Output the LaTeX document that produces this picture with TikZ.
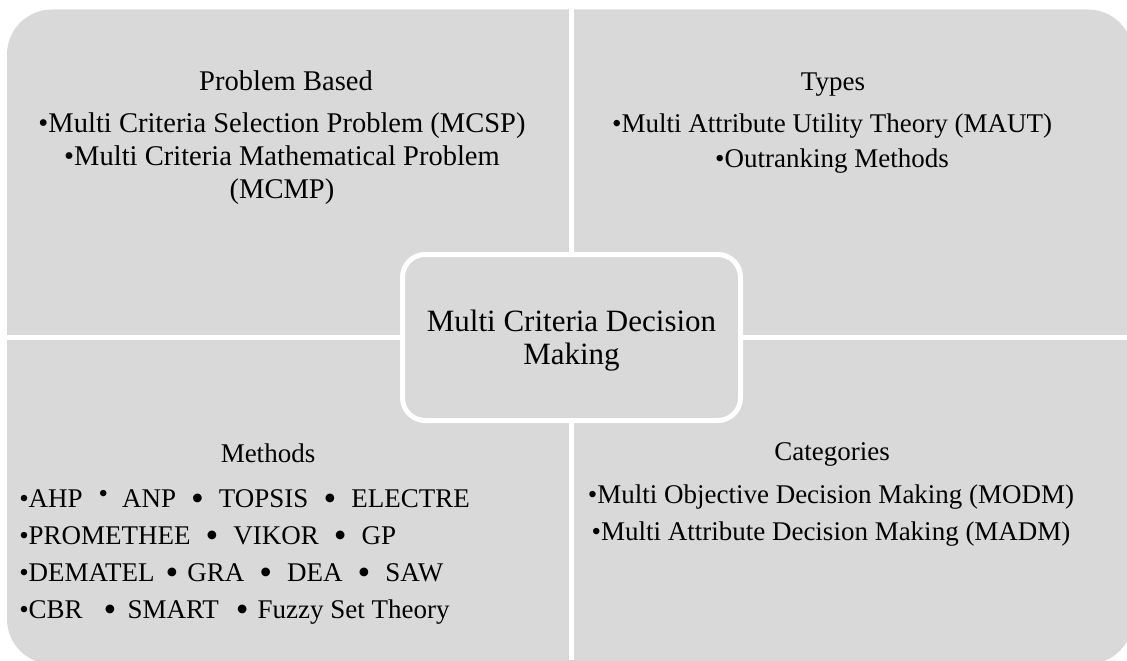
\documentclass[tikz,border=0pt]{standalone}
\usepackage{fontspec}
\usepackage{graphicx}
\setmainfont{Liberation Serif}
\definecolor{panel}{HTML}{D9D9D9}
\newlength\pxu
\setlength\pxu{0.75pt}
% list bullet, large separator bullet and raised separator dot
\newcommand\sbul{\textbullet}
\newcommand\bbul[2]{\hspace{#1\pxu}\raisebox{-3\pxu}{\scalebox{1.35}{\textbullet}}\hspace{#2\pxu}}
\newcommand\rbul[2]{\hspace{#1\pxu}\raisebox{5\pxu}{\textbullet}\hspace{#2\pxu}}
\begin{document}
\begin{tikzpicture}[x=0.75pt,y=-0.75pt,
  txt/.style={inner sep=0pt, anchor=base, font=\fontsize{20.25pt}{24pt}\selectfont},
  bigtxt/.style={txt, font=\fontsize{21.4pt}{25pt}\selectfont},
  ltxt/.style={txt, anchor=base west},
  hubtxt/.style={txt, font=\fontsize{23.25pt}{28pt}\selectfont}]
\useasboundingbox (0,0) rectangle (1127,660);
\clip (0,0) rectangle (1127,660);
% four quadrants: one rounded panel split by white gaps
\fill[panel, rounded corners=33.75pt] (7,9.5) rectangle (1133,664);
\fill[white] (569,0) rectangle (574,660);
\fill[white] (0,335) rectangle (1127,340);
% central rounded box
\node[draw=white, line width=3.75pt, fill=panel, rounded corners=17pt,
      minimum width=338\pxu, minimum height=166\pxu, inner sep=0pt] (hub) at (571.5,337.5) {};
\node[hubtxt] (hub1) at (571.5,331) {Multi Criteria Decision};
\node[hubtxt] (hub2) at (571.5,364) {Making};
% problem based
\node[bigtxt] (pb0) at (286,90) {Problem Based};
\node[bigtxt] (pb1) at (282,132) {\sbul Multi Criteria Selection Problem (MCSP)};
\node[bigtxt] (pb2) at (282,165) {\sbul Multi Criteria Mathematical Problem};
\node[bigtxt] (pb3) at (282,198) {(MCMP)};
% types
\node[txt] (ty0) at (833,90) {Types};
\node[txt] (ty1) at (832,132) {\sbul Multi Attribute Utility Theory (MAUT)};
\node[txt] (ty2) at (832,167) {\sbul Outranking Methods};
% methods
\node[txt] (me0) at (268,462) {Methods};
\node[ltxt] (me1) at (19,507) {\sbul AHP\rbul{16}{14}ANP\bbul{15}{15}TOPSIS\bbul{15}{15}ELECTRE};
\node[ltxt] (me2) at (19,544) {\sbul PROMETHEE\bbul{15}{15}VIKOR\bbul{15}{15}GP};
\node[ltxt] (me3) at (19,581) {\sbul DEMATEL\bbul{11}{9}GRA\bbul{15}{15}DEA\bbul{15}{15}SAW};
\node[ltxt] (me4) at (19,618) {\sbul CBR\bbul{21}{11}SMART\bbul{17}{9}Fuzzy Set Theory};
% categories
\node[txt] (ca0) at (832,460) {Categories};
\node[txt] (ca1) at (831,503) {\sbul Multi Objective Decision Making (MODM)};
\node[txt] (ca2) at (831,540) {\sbul Multi Attribute Decision Making (MADM)};
\end{tikzpicture}
\end{document}
